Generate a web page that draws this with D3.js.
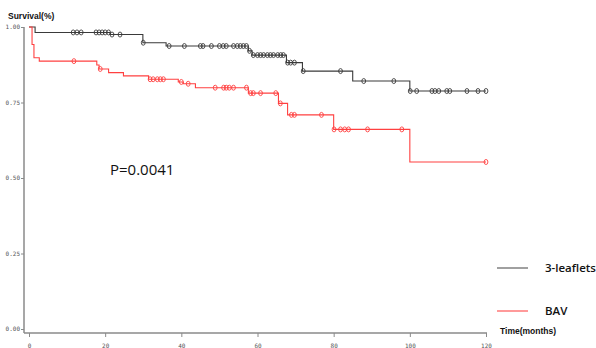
<!DOCTYPE html>
<html>
<head>
<meta charset="utf-8">
<script src="https://cdn.jsdelivr.net/npm/d3@7"></script>
<style>
  body { margin: 0; background: #fff; }
  svg { display: block; }
</style>
</head>
<body>
<div id="chart"></div>
<script>
// tick labels
var xTicks = [0, 20, 40, 60, 80, 100, 120];
var yTicks = [0, 0.25, 0.5, 0.75, 1];

// 3-leaflets: step times (months) and survival after each step
var tlTimes = [0, 1.6, 21.3, 29.9, 36, 57.6, 58.6, 67.6, 71.8, 85, 100];
var tlSurv  = [1, 0.982, 0.975, 0.948, 0.937, 0.921, 0.907, 0.882, 0.854, 0.821, 0.788];
var tlCensor = [11.6, 12.6, 13.7, 17.6, 18.4, 19.2, 20.0, 20.9, 21.8, 23.9, 30.0, 36.8, 40.8,
  45.0, 45.7, 47.9, 50.0, 51.0, 51.8, 53.7, 54.7, 55.5, 56.3, 57.1, 57.9, 58.9, 60.0, 60.8,
  61.6, 62.6, 63.4, 64.2, 65.3, 66.1, 66.8, 67.9, 68.7, 69.7, 72.0, 81.8, 87.9, 95.8, 100.1,
  101.8, 105.8, 106.6, 107.6, 109.7, 110.5, 115.0, 117.9, 120];

// BAV
var bavTimes = [0, 0.8, 1.3, 2.7, 17.8, 18.4, 20.9, 24.8, 31.4, 39.2, 40.5, 43.7, 57.6, 65.5, 67.9, 80, 100];
var bavSurv  = [1, 0.942, 0.898, 0.887, 0.874, 0.861, 0.849, 0.838, 0.827, 0.818, 0.812, 0.799, 0.781, 0.747, 0.709, 0.661, 0.553];
var bavCensor = [11.8, 18.7, 31.8, 32.6, 33.7, 34.5, 35.3, 40.0, 41.8, 48.9, 51.1, 51.8, 52.6,
  53.7, 57.1, 58.2, 58.9, 60.8, 64.8, 66.0, 68.9, 69.7, 76.8, 80.1, 81.8, 82.9, 83.9, 88.9, 97.9, 120];

var endTime = 120;

var width = 596, height = 348;
var x = d3.scaleLinear().domain([0, 120]).range([29, 486]);
var y = d3.scaleLinear().domain([0, 1]).range([329, 27]);

var svg = d3.select('#chart').append('svg')
  .attr('width', width)
  .attr('height', height);

svg.append('rect').attr('width', width).attr('height', height).attr('fill', '#fff');

var axisColor = '#8a8a8a';

// y axis
var yAxis = svg.append('g')
  .attr('transform', 'translate(24,0)')
  .call(d3.axisLeft(y).tickValues(yTicks).tickFormat(d3.format('.2f')).tickSize(3).tickSizeOuter(0).tickPadding(1));
yAxis.select('.domain').remove();
yAxis.selectAll('line').attr('stroke', axisColor);
yAxis.selectAll('text').attr('font-family', 'DejaVu Sans Mono').attr('font-size', 6).attr('fill', '#555');
svg.append('line').attr('x1', 24).attr('x2', 24).attr('y1', 27).attr('y2', 333)
  .attr('stroke', axisColor).attr('stroke-width', 1.5);

// x axis
var xAxis = svg.append('g')
  .attr('transform', 'translate(0,333)')
  .call(d3.axisBottom(x).tickValues(xTicks).tickSize(4).tickSizeOuter(0).tickPadding(7));
xAxis.select('.domain').remove();
xAxis.selectAll('line').attr('stroke', axisColor);
xAxis.selectAll('text').attr('font-family', 'DejaVu Sans Mono').attr('font-size', 6).attr('fill', '#555');
svg.append('line').attr('x1', 24).attr('x2', 487).attr('y1', 333).attr('y2', 333)
  .attr('stroke', axisColor).attr('stroke-width', 1.5);

var line = d3.line()
  .x(function(d) { return x(d[0]); })
  .y(function(d) { return y(d[1]); })
  .curve(d3.curveStepAfter);

function survAt(times, surv, t) {
  var s = surv[0];
  for (var i = 0; i < times.length; i++) {
    if (times[i] <= t) s = surv[i];
  }
  return s;
}

function drawGroup(times, surv, censor, color) {
  var pts = times.map(function(t, i) { return [t, surv[i]]; });
  pts.push([endTime, surv[surv.length - 1]]);
  svg.append('path')
    .datum(pts)
    .attr('d', line)
    .attr('fill', 'none')
    .attr('stroke', color)
    .attr('stroke-width', 1.1);
  svg.append('g').selectAll('ellipse')
    .data(censor)
    .enter().append('ellipse')
    .attr('cx', function(d) { return x(d); })
    .attr('cy', function(d) { return y(survAt(times, surv, d)); })
    .attr('rx', 1.9)
    .attr('ry', 2.5)
    .attr('fill', 'none')
    .attr('stroke', color)
    .attr('stroke-width', 0.9);
}

drawGroup(tlTimes, tlSurv, tlCensor, '#3a3a3a');
drawGroup(bavTimes, bavSurv, bavCensor, '#ff4040');

// titles
svg.append('text').attr('x', 8).attr('y', 19)
  .attr('font-family', 'Liberation Sans, Arial').attr('font-weight', 'bold').attr('font-size', 8.5)
  .attr('fill', '#111').text('Survival(%)');
svg.append('text').attr('x', 500).attr('y', 334)
  .attr('font-family', 'Liberation Sans, Arial').attr('font-weight', 'bold').attr('font-size', 8.5)
  .attr('fill', '#111').text('Time(months)');

svg.append('text').attr('x', 110).attr('y', 175)
  .attr('font-family', 'Open Sans').attr('font-size', 15)
  .attr('fill', '#111').text('P=0.0041');

// legend
var legend = [{name: '3-leaflets', color: '#a0a0a0', yy: 268}, {name: 'BAV', color: '#ff9a9a', yy: 311}];
legend.forEach(function(l) {
  svg.append('line').attr('x1', 497).attr('x2', 528).attr('y1', l.yy).attr('y2', l.yy)
    .attr('stroke', l.color).attr('stroke-width', 2);
  svg.append('text').attr('x', 545).attr('y', l.yy + 4)
    .attr('font-family', 'Open Sans').attr('font-weight', 600).attr('font-size', 11.5)
    .attr('fill', '#111').text(l.name);
});
</script>
</body>
</html>
